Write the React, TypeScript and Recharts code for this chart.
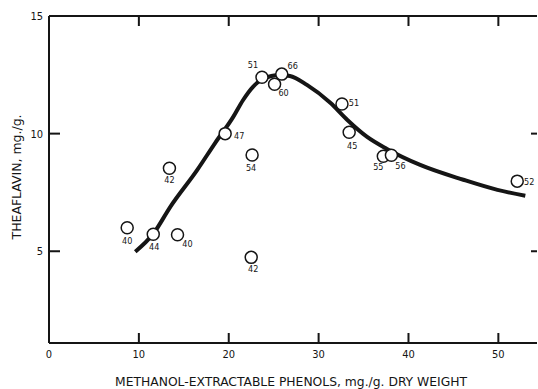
import React from 'react';
import { ComposedChart, Line, Scatter, XAxis, YAxis } from 'recharts';

// observed points (methanol-extractable phenols vs theaflavin) with their sample labels
const phenols = [8.7, 11.6, 14.3, 13.4, 19.6, 22.5, 22.6, 23.7, 25.1, 25.9, 32.6, 33.4, 37.2, 38.1, 52.1];
const theaflavin = [6.0, 5.72, 5.7, 8.53, 10.0, 4.74, 9.09, 12.4, 12.1, 12.53, 11.26, 10.06, 9.04, 9.08, 7.98];
const pointLabels = ['40', '44', '40', '42', '47', '42', '54', '51', '60', '66', '51', '45', '55', '56', '52'];

// fitted curve
const curveX = [9.6, 11.6, 13.5, 16.5, 18.5, 20.5, 21.6, 22.7, 23.8, 25.7, 26.8, 28.7, 31.3, 33.2, 35.4, 37.6, 41.3, 46.1, 49.9, 53.0];
const curveY = [4.98, 5.74, 6.89, 8.46, 9.61, 10.71, 11.43, 11.99, 12.32, 12.49, 12.45, 12.07, 11.31, 10.58, 9.86, 9.35, 8.67, 8.04, 7.61, 7.36];

const xTicks = [0, 10, 20, 30, 40, 50];
const yTicks = [5, 10, 15];
const innerXTicks = [10, 20, 30, 40, 50];
const innerYTicks = [5, 10];

// where each number sits relative to its circle
const labelOffset: Array<[number, number]> = [
  [0, 13], [1, 13], [10, 9], [0, 12], [14, 2], [2, 12], [-1, 13], [-9, -12],
  [9, 9], [11, -8], [12, -1], [3, 14], [-5, 11], [9, 11], [12, 1],
];

const INK = '#151515';
const FONT = '"DejaVu Sans Condensed", "DejaVu Sans", sans-serif';
const X_MAX = 54.3;
const X_DOMAIN = [0, X_MAX];
const Y_DOMAIN = [1.1, 15];
const spine = { stroke: INK, strokeWidth: 2 };
const tickFont = { fontSize: 11, fontFamily: FONT, fill: INK };
const blank = () => '';

const points = phenols.map((x, i) => ({ x, y: theaflavin[i], label: pointLabels[i], idx: i }));
const curve = curveX.map((x, i) => ({ x, y: curveY[i] }));

// inward tick marks, placed through the chart scales
const bottomMarks = innerXTicks.map((x) => ({ x, y: Y_DOMAIN[0] }));
const topMarks = innerXTicks.map((x) => ({ x, y: Y_DOMAIN[1] }));
const leftMarks = innerYTicks.map((y) => ({ x: 0, y }));
const rightMarks = innerYTicks.map((y) => ({ x: X_MAX, y }));

const Marker = (props: any) => {
  const { cx, cy, payload } = props;
  const [dx, dy] = labelOffset[payload.idx];
  return (
    <g>
      <circle cx={cx} cy={cy} r={6} fill="#fff" stroke={INK} strokeWidth={1.5} />
      <text x={cx + dx} y={cy + dy + 3} textAnchor="middle" fontSize={9} fontFamily={FONT} fill={INK}>
        {payload.label}
      </text>
    </g>
  );
};

const UpMark = (p: any) => <rect x={p.cx - 1} y={p.cy - 10} width={2} height={10} fill={INK} />;
const DownMark = (p: any) => <rect x={p.cx - 1} y={p.cy} width={2} height={10} fill={INK} />;
const RightwardMark = (p: any) => <rect x={p.cx} y={p.cy - 1} width={11} height={2} fill={INK} />;
const LeftwardMark = (p: any) => <rect x={p.cx - 6} y={p.cy - 1} width={6} height={2} fill={INK} />;

export default function App() {
  return (
    <div style={{ position: 'absolute', left: 0, top: 0, width: 538, height: 389, overflow: 'hidden', background: '#fff' }}>
      <ComposedChart width={538} height={389} margin={{ top: 15, right: 0, bottom: 45, left: 48 }}>
        <XAxis
          dataKey="x"
          type="number"
          domain={X_DOMAIN}
          ticks={xTicks}
          height={1}
          tickSize={0}
          tickMargin={7}
          tickLine={false}
          tick={tickFont}
          axisLine={spine}
        />
        <XAxis
          xAxisId="top"
          orientation="top"
          dataKey="x"
          type="number"
          domain={X_DOMAIN}
          ticks={xTicks}
          height={1}
          tickLine={false}
          tickFormatter={blank}
          axisLine={spine}
        />
        <YAxis
          type="number"
          domain={Y_DOMAIN}
          ticks={yTicks}
          width={1}
          tickSize={0}
          tickMargin={6}
          tickLine={false}
          tick={tickFont}
          axisLine={spine}
        />
        <YAxis
          yAxisId="right"
          orientation="right"
          type="number"
          domain={Y_DOMAIN}
          ticks={innerYTicks}
          width={1}
          tickLine={false}
          tickFormatter={blank}
          axisLine={false}
        />
        <Scatter data={bottomMarks} dataKey="y" shape={UpMark} legendType="none" isAnimationActive={false} />
        <Scatter data={topMarks} dataKey="y" shape={DownMark} legendType="none" isAnimationActive={false} />
        <Scatter data={leftMarks} dataKey="y" shape={RightwardMark} legendType="none" isAnimationActive={false} />
        <Scatter data={rightMarks} dataKey="y" shape={LeftwardMark} legendType="none" isAnimationActive={false} />
        <Line
          data={curve}
          dataKey="y"
          type="monotone"
          stroke={INK}
          strokeWidth={4}
          dot={false}
          activeDot={false}
          isAnimationActive={false}
        />
        <Scatter data={points} dataKey="y" shape={<Marker />} isAnimationActive={false} />
        <Scatter xAxisId="top" yAxisId="right" data={[]} dataKey="y" isAnimationActive={false} />
      </ComposedChart>
      <svg width={538} height={389} style={{ position: 'absolute', left: 0, top: 0, pointerEvents: 'none' }}>
        <text
          x={291}
          y={386}
          textAnchor="middle"
          fontSize={12}
          fontFamily={FONT}
          fill={INK}
          textLength={352}
          lengthAdjust="spacingAndGlyphs"
        >
          METHANOL-EXTRACTABLE PHENOLS, mg./g. DRY WEIGHT
        </text>
        <text
          transform="translate(21,177) rotate(-90)"
          textAnchor="middle"
          fontSize={12}
          fontFamily={FONT}
          fill={INK}
          textLength={125}
          lengthAdjust="spacingAndGlyphs"
        >
          THEAFLAVIN, mg./g.
        </text>
      </svg>
    </div>
  );
}
